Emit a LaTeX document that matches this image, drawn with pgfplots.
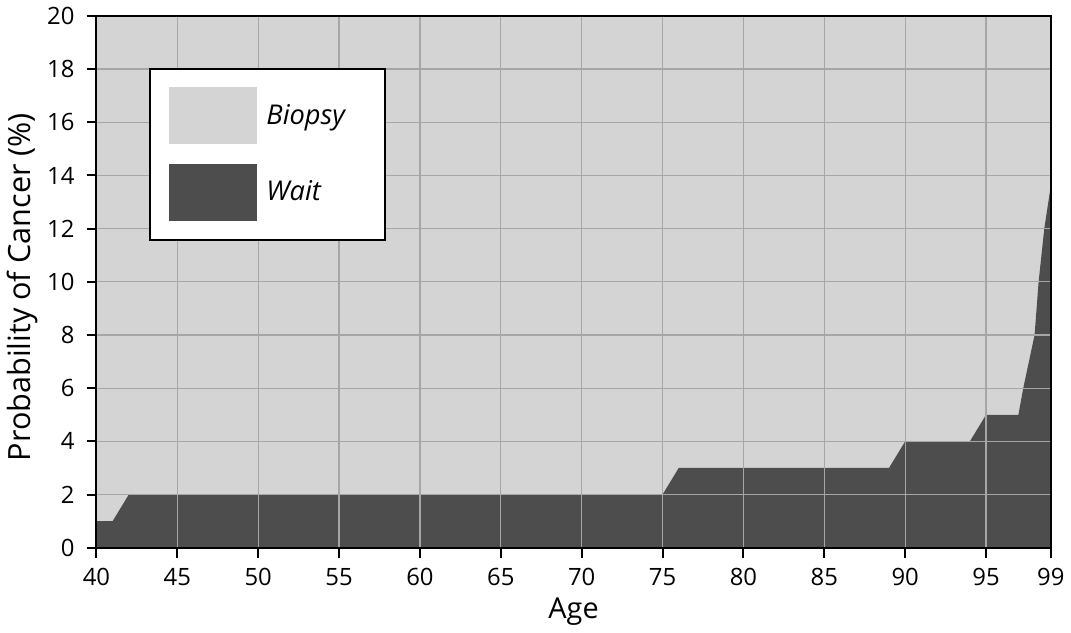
\documentclass[border=0pt]{standalone}
\usepackage{pgfplots}
\pgfplotsset{compat=1.18}
\usepackage{fontspec}
\setmainfont{Open Sans}
\definecolor{biopsy}{RGB}{212,212,212}
\definecolor{wait}{RGB}{77,77,77}
\definecolor{gridgray}{RGB}{166,166,166}
\begin{document}
\begin{tikzpicture}
\begin{axis}[
  at={(0,0)}, anchor=south west,
  scale only axis, width=480pt, height=267.5pt,
  xmin=40, xmax=99, ymin=0, ymax=20,
  xtick={40,45,50,55,60,65,70,75,80,85,90,95,99},
  ytick={0,2,4,6,8,10,12,14,16,18,20},
  grid=major, grid style={color=gridgray, line width=0.6pt},
  axis on top,
  axis line style={line width=1pt, black},
  tick align=outside, tick pos=left, major tick length=5pt,
  every tick/.style={black, line width=1pt},
  /pgf/number format/assume math mode=true,
  tick label style={font=\fontsize{12}{13}\selectfont},
  xticklabel style={yshift=-2pt},
  yticklabel style={xshift=-2.5pt},
  xlabel={Age}, ylabel={Probability of Cancer (\%)},
  xlabel style={font=\fontsize{14.5}{16}\selectfont, at={(axis description cs:0.5,-0.121)}, anchor=center},
  ylabel style={font=\fontsize{15.4}{17}\selectfont, at={(axis description cs:-0.078,0.49)}, anchor=center},
  axis background/.style={fill=biopsy},
  legend image code/.code={\fill[#1] (0pt,-14.25pt) rectangle (44.5pt,14.25pt);},
  legend style={at={(axis description cs:0.0552,0.9028)}, anchor=north west,
    draw=black, line width=1pt, fill=white, inner xsep=9.5pt, inner ysep=9.5pt,
    row sep=10pt, column sep=2.5pt,
    font=\itshape\fontsize{13.7}{15}\selectfont},
  legend cell align=left,
]
\addlegendimage{fill=biopsy, draw=none}
\addlegendentry{Biopsy\rule{8.5pt}{0pt}}
\addplot[fill=wait, draw=none] coordinates {
  (40,1) (41,1) (42,2) (43,2) (44,2) (45,2) (46,2) (47,2) (48,2) (49,2)
  (50,2) (51,2) (52,2) (53,2) (54,2) (55,2) (56,2) (57,2) (58,2) (59,2)
  (60,2) (61,2) (62,2) (63,2) (64,2) (65,2) (66,2) (67,2) (68,2) (69,2)
  (70,2) (71,2) (72,2) (73,2) (74,2) (75,2) (76,3) (77,3) (78,3) (79,3)
  (80,3) (81,3) (82,3) (83,3) (84,3) (85,3) (86,3) (87,3) (88,3) (89,3)
  (90,4) (91,4) (92,4) (93,4) (94,4) (95,5) (96,5) (97,5)
  (97.3,6) (98,8) (98.25,10) (98.6,12) (99,13.6)
} \closedcycle;
\addlegendentry{Wait}
\end{axis}
\path[use as bounding box] (-48.5pt,-38.5pt) rectangle (487pt,275.5pt);
\end{tikzpicture}
\end{document}
